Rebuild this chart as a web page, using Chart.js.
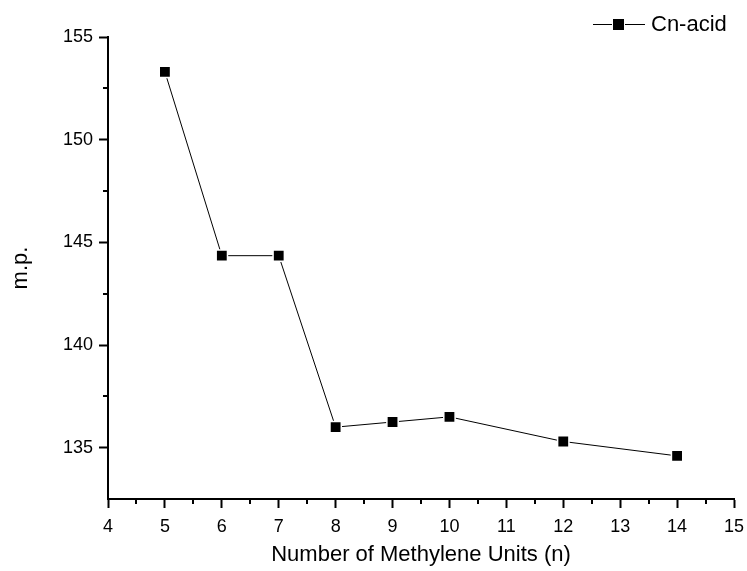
<!DOCTYPE html>
<html>
<head>
<meta charset="utf-8">
<script src="https://cdn.jsdelivr.net/npm/chart.js@4/dist/chart.umd.min.js"></script>
<style>
  html, body { margin: 0; padding: 0; background: #fff; }
  #wrap { width: 747px; height: 571px; }
</style>
</head>
<body>
<div id="wrap"><canvas id="c"></canvas></div>
<script>
// Melting point of Cn-acid against number of methylene units
const methyleneUnits = [5, 6, 7, 8, 9, 10, 12, 14];
const meltingPoints = [153.3, 144.35, 144.35, 136.0, 136.25, 136.5, 135.3, 134.6];
const xTickValues = [4, 5, 6, 7, 8, 9, 10, 11, 12, 13, 14, 15];
const yTickValues = [135, 140, 145, 150, 155];
const xMinorValues = [4.5, 5.5, 6.5, 7.5, 8.5, 9.5, 10.5, 11.5, 12.5, 13.5, 14.5];
const yMinorValues = [137.5, 142.5, 147.5, 152.5];
const seriesLabel = 'Cn-acid';
const xTitle = 'Number of Methylene Units (n)';
const yTitle = 'm.p.';

const FONT = '"Liberation Sans", Arial, Helvetica, sans-serif';

// Short outward ticks between the labelled ones
const minorTicks = {
  id: 'minorTicks',
  afterDraw(chart) {
    const ctx = chart.ctx;
    const xs = chart.scales.x, ys = chart.scales.y;
    ctx.save();
    ctx.strokeStyle = '#000';
    ctx.lineWidth = 2;
    ctx.beginPath();
    xMinorValues.forEach(v => {
      const px = Math.round(xs.getPixelForValue(v));
      ctx.moveTo(px, ys.bottom);
      ctx.lineTo(px, ys.bottom + 5);
    });
    yMinorValues.forEach(v => {
      const py = Math.round(ys.getPixelForValue(v));
      ctx.moveTo(xs.left, py);
      ctx.lineTo(xs.left - 5, py);
    });
    ctx.stroke();
    ctx.restore();
  }
};

// Legend entry in the top-right corner: line, square marker, label
const cornerLegend = {
  id: 'cornerLegend',
  afterDraw(chart) {
    const ctx = chart.ctx;
    const ds = chart.data.datasets[0];
    const y = 24;
    ctx.save();
    ctx.strokeStyle = '#000';
    ctx.lineWidth = 1;
    ctx.beginPath();
    ctx.moveTo(593, y + 0.5);
    ctx.lineTo(645, y + 0.5);
    ctx.stroke();
    ctx.fillStyle = '#000';
    ctx.strokeStyle = '#fff';
    ctx.lineWidth = 2;
    ctx.beginPath();
    ctx.rect(613, y - 5, 11, 11);
    ctx.stroke();
    ctx.fill();
    ctx.fillStyle = '#000';
    ctx.font = '22px ' + FONT;
    ctx.textBaseline = 'middle';
    ctx.textAlign = 'left';
    ctx.fillText(ds.label, 651, y + 1);
    ctx.restore();
  }
};

new Chart(document.getElementById('c'), {
  type: 'line',
  data: {
    datasets: [{
      label: seriesLabel,
      data: methyleneUnits.map((x, i) => ({ x: x, y: meltingPoints[i] })),
      borderColor: '#000',
      borderWidth: 1,
      backgroundColor: '#000',
      pointStyle: 'rect',
      pointRadius: 8,
      pointHoverRadius: 8,
      pointBackgroundColor: '#000',
      pointBorderColor: '#fff',
      pointBorderWidth: 1.5,
      tension: 0,
      fill: false
    }]
  },
  options: {
    responsive: true,
    maintainAspectRatio: false,
    animation: false,
    events: [],
    layout: { padding: { top: 37, right: 13, bottom: 0, left: 0 } },
    plugins: {
      legend: { display: false },
      tooltip: { enabled: false }
    },
    scales: {
      x: {
        type: 'linear',
        min: 4,
        max: 15,
        afterBuildTicks: s => { s.ticks = xTickValues.map(v => ({ value: v })); },
        afterFit: s => { s.height = 72; s.paddingLeft = 0; s.paddingRight = 0; },
        ticks: {
          color: '#000',
          font: { family: FONT, size: 18 },
          padding: 8,
          maxRotation: 0,
          autoSkip: false
        },
        grid: {
          drawOnChartArea: false,
          drawTicks: true,
          tickLength: 9,
          tickColor: '#000',
          tickWidth: 2
        },
        border: { display: true, color: '#000', width: 2 },
        title: {
          display: true,
          text: xTitle,
          color: '#000',
          font: { family: FONT, size: 22 },
          padding: { top: 0, bottom: 3 }
        }
      },
      y: {
        type: 'linear',
        min: 132.5,
        max: 155,
        afterBuildTicks: s => { s.ticks = yTickValues.map(v => ({ value: v })); },
        afterFit: s => { s.width = 108; },
        ticks: {
          color: '#000',
          font: { family: FONT, size: 18 },
          padding: 6,
          autoSkip: false
        },
        grid: {
          drawOnChartArea: false,
          drawTicks: true,
          tickLength: 9,
          tickColor: '#000',
          tickWidth: 2
        },
        border: { display: true, color: '#000', width: 2 },
        title: {
          display: true,
          text: yTitle,
          color: '#000',
          font: { family: FONT, size: 22 },
          padding: { top: 8, bottom: 0 }
        }
      }
    }
  },
  plugins: [minorTicks, cornerLegend]
});
</script>
</body>
</html>
